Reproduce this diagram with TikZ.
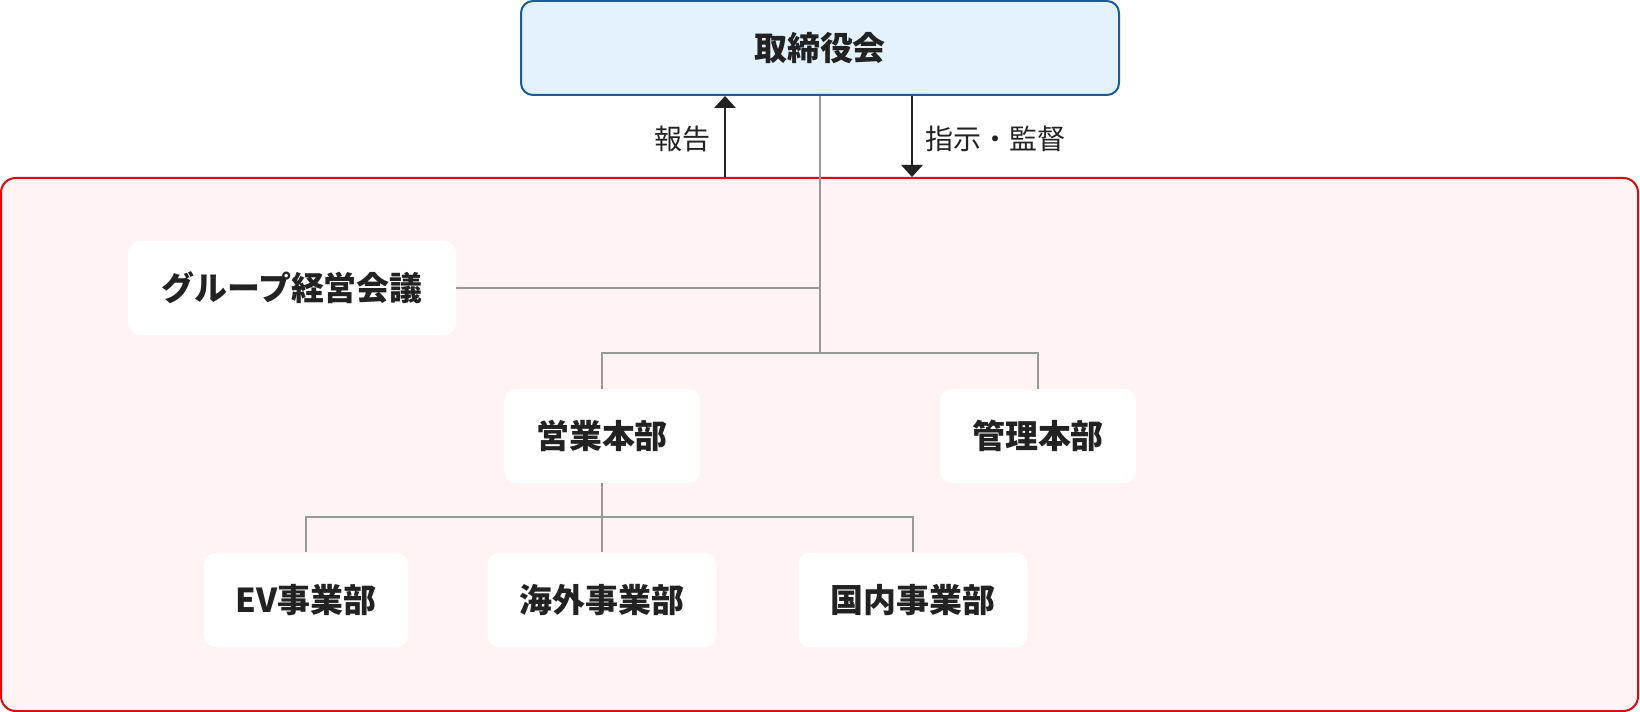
\documentclass[tikz,border=0pt]{standalone}
\usepackage{fontspec}
\setmainfont{Noto Sans CJK JP}
\usetikzlibrary{arrows.meta}
\definecolor{txt}{HTML}{222222}
\definecolor{boardfill}{HTML}{E3F2FD}
\definecolor{boardline}{HTML}{1A5C9A}
\definecolor{redline}{HTML}{E00A0A}
\definecolor{redfill}{HTML}{FFF4F3}
\definecolor{conn}{HTML}{999999}
\tikzset{
  orgbox/.style={draw=none,fill=white,rounded corners=9pt,text=txt,font=\bfseries\fontsize{24.7}{28}\selectfont,inner sep=0pt,minimum height=70.5pt},
  conline/.style={draw=conn,line width=1.5pt},
  arr/.style={draw=txt,line width=1.5pt,-{Triangle[length=9pt,width=16pt]}},
  lbl/.style={text=txt,font=\fontsize{21}{24}\selectfont,inner sep=0pt}
}
\begin{document}
\begin{tikzpicture}[x=0.75pt,y=-0.75pt]
\useasboundingbox[fill=white] (0,0) rectangle (1640,712);
% container
\node[draw=redline,fill=redfill,line width=1.5pt,rounded corners=11pt,minimum width=1227.75pt,minimum height=399.75pt,inner sep=0pt] (group) at (819.5,444.5) {};
% board
\node[orgbox,draw=boardline,fill=boardfill,line width=1.5pt,minimum width=448.5pt] (board) at (820,48) {取締役会};
% nodes
\node[orgbox,minimum width=246pt] (gmeeting) at (292,288) {グループ経営会議};
\node[orgbox,minimum width=147pt] (eigyo) at (602,436) {営業本部};
\node[orgbox,minimum width=147pt] (kanri) at (1038,436) {管理本部};
\node[orgbox,minimum width=153pt,minimum height=71pt] (ev) at (306,600) {EV事業部};
\node[orgbox,minimum width=171.75pt,minimum height=71pt] (kaigai) at (602,600) {海外事業部};
\node[orgbox,minimum width=171.75pt,minimum height=71pt] (kokunai) at (913,600) {国内事業部};
% coordinates
\coordinate (upx) at (725,0);
\coordinate (dnx) at (912,0);
\coordinate (j1) at (820,353);
\coordinate (j2) at (602,517);
% arrows
\draw[arr] (group.north -| upx) -- (board.south -| upx);
\draw[arr] (board.south -| dnx) -- (group.north -| dnx);
\node[lbl,anchor=east] (lreport) at (711,139) {報告};
\node[lbl,anchor=west] (linstr) at (925,139) {指示・監督};
% connectors
\draw[conline] (board.south) -- (j1);
\draw[conline] (gmeeting.east) -- (gmeeting.east -| j1);
\draw[conline] (j1) -| (eigyo.north);
\draw[conline] (j1) -| (kanri.north);
\draw[conline] (eigyo.south) -- (j2);
\draw[conline] (j2) -| (ev.north);
\draw[conline] (j2) -- (kaigai.north);
\draw[conline] (j2) -| (kokunai.north);
\end{tikzpicture}
\end{document}
